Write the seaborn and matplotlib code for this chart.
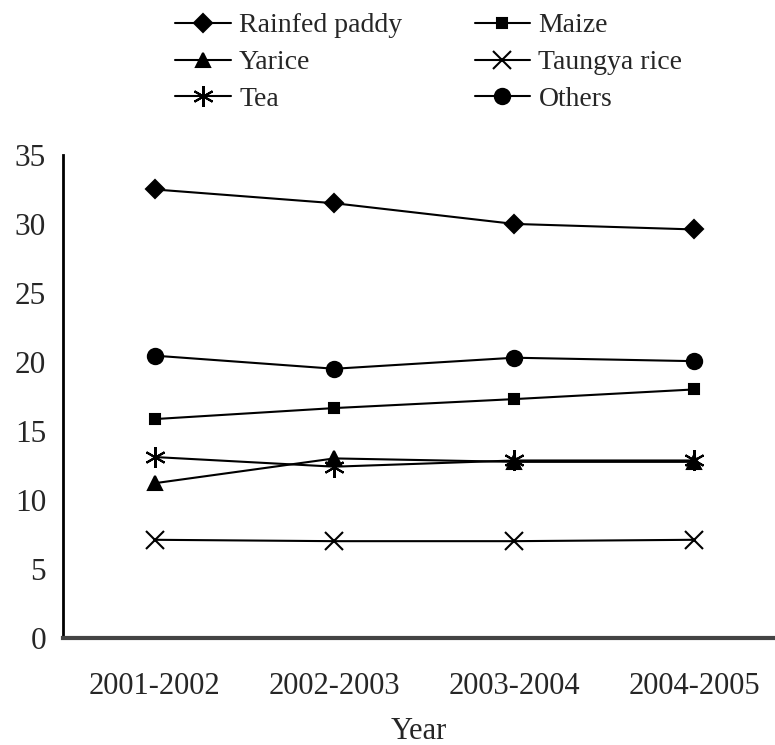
import numpy as np
import pandas as pd
import matplotlib.pyplot as plt
import seaborn as sns

years = ["2001-2002", "2002-2003", "2003-2004", "2004-2005"]
rainfed_paddy = [32.5, 31.5, 30.0, 29.6]
maize = [15.85, 16.65, 17.3, 18.0]
yarice = [11.2, 13.0, 12.75, 12.75]
taungya_rice = [7.1, 7.0, 7.0, 7.1]
tea = [13.1, 12.4, 12.85, 12.85]
others = [20.45, 19.5, 20.3, 20.05]

series = {
    "Rainfed paddy": (rainfed_paddy, "D", 9),
    "Maize": (maize, "s", 7),
    "Yarice": (yarice, "^", 10),
    "Taungya rice": (taungya_rice, "x", 13),
    "Tea": (tea, (6, 2, 0), 15),
    "Others": (others, "o", 11),
}

sns.set_style("white")
plt.rcParams['font.family'] = ['Liberation Serif', 'DejaVu Serif']

fig = plt.figure(figsize=(7.75, 7.45), dpi=100)
ax = fig.add_axes([0.081, 0.144, 0.919, 0.648])

lines = {}
for name, (vals, mk, ms) in series.items():
    sns.lineplot(x=years, y=vals, marker=mk, markersize=ms, color="black",
                 linewidth=1.5, markeredgewidth=1.5, markeredgecolor="black",
                 ax=ax, label=name, sort=False)
    lines[name] = ax.lines[-1]

ax.get_legend().remove()
ax.set_ylim(0, 35)
ax.set_xlim(-0.51, 3.45)
ax.set_yticks(range(0, 36, 5))
ax.tick_params(axis="y", direction="in", length=7, width=1.2, labelsize=22.5, pad=12)
ax.tick_params(axis="x", length=0, labelsize=22, pad=25)
ax.set_xlabel("Year", fontsize=22, labelpad=11)
ax.set_ylabel("")
for s in ["top", "right"]:
    ax.spines[s].set_visible(False)
ax.spines["left"].set_linewidth(2)
ax.spines["left"].set_color("black")
ax.spines["bottom"].set_linewidth(3)
ax.spines["bottom"].set_color("#444444")

order = ["Rainfed paddy", "Yarice", "Tea", "Maize", "Taungya rice", "Others"]
fig.legend([lines[n] for n in order], order, loc="upper left",
           bbox_to_anchor=(0.219, 0.99), ncol=2, frameon=False, fontsize=20,
           handlelength=2.0, handletextpad=0.3, labelspacing=0.41,
           columnspacing=2.6, borderaxespad=0.1, borderpad=0.1)

fig.savefig("out.png", dpi=100)
